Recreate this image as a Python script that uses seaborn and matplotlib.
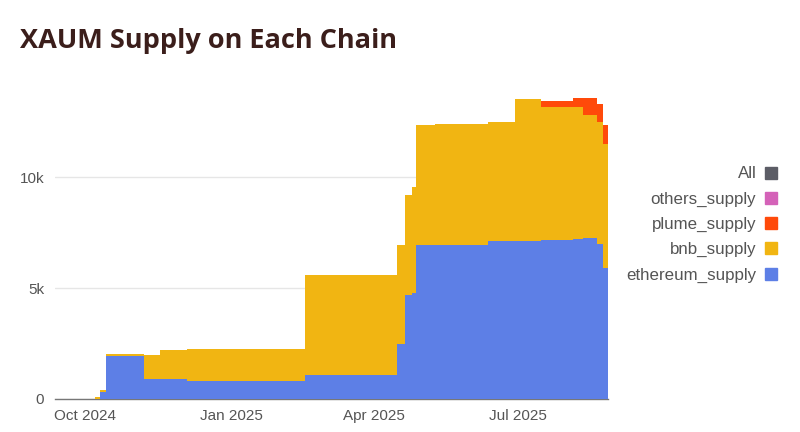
import pandas as pd
import seaborn as sns
import matplotlib.pyplot as plt
import matplotlib.dates as mdates
from matplotlib.lines import Line2D
from matplotlib.ticker import FuncFormatter

# step change dates and supply per chain
dates = ["2024-09-12", "2024-10-07", "2024-10-10", "2024-10-14", "2024-11-07",
         "2024-11-17", "2024-12-04", "2025-02-17", "2025-04-16", "2025-04-21",
         "2025-04-25", "2025-04-28", "2025-05-10", "2025-06-12", "2025-06-29",
         "2025-07-16", "2025-08-05", "2025-08-11", "2025-08-20", "2025-08-24"]
end_date = "2025-08-27"
ethereum_supply = [0, 0, 300, 1950, 900, 900, 800, 1100, 2500, 4700,
                   4800, 6950, 6950, 7100, 7100, 7150, 7200, 7250, 7000, 5900]
bnb_supply = [0, 100, 100, 100, 1100, 1300, 1450, 4500, 4450, 4500,
              4750, 5400, 5450, 5400, 6400, 6000, 5950, 5550, 5500, 5600]
plume_supply = [0, 0, 0, 0, 0, 0, 0, 0, 0, 0,
                0, 0, 0, 0, 0, 300, 400, 750, 800, 850]
others_supply = [0, 0, 0, 0, 0, 0, 0, 0, 0, 0,
                 0, 0, 0, 0, 0, 0, 0, 0, 0, 0]

series_names = ["ethereum_supply", "bnb_supply", "plume_supply", "others_supply"]
colors = {"All": "#5c5d66", "others_supply": "#d462b8", "plume_supply": "#ff4a0a",
          "bnb_supply": "#f1b512", "ethereum_supply": "#5d7fe6"}

df = pd.DataFrame({"date": pd.to_datetime(dates),
                   "ethereum_supply": ethereum_supply,
                   "bnb_supply": bnb_supply,
                   "plume_supply": plume_supply,
                   "others_supply": others_supply})
# repeat last row at the end date so the final step is drawn
last = df.iloc[[-1]].copy()
last["date"] = pd.to_datetime(end_date)
df = pd.concat([df, last], ignore_index=True)

sns.set_theme(style="white")
plt.rcParams["font.family"] = ["Liberation Sans", "DejaVu Sans"]

fig = plt.figure(figsize=(8, 4.32), dpi=100)
ax = fig.add_axes([0.069, 0.0764, 0.691, 0.719])

# stacked step areas
bottom = pd.Series(0.0, index=df.index)
for name in series_names:
    top = bottom + df[name]
    ax.fill_between(df["date"], bottom, top, step="post", color=colors[name],
                    linewidth=0, zorder=2)
    bottom = top

ax.set_xlim(df["date"].iloc[0], df["date"].iloc[-1])
ax.set_ylim(0, 14000)
ax.set_yticks([0, 5000, 10000])
ax.yaxis.set_major_formatter(FuncFormatter(lambda v, p: "0" if v == 0 else f"{int(v/1000)}k"))
ax.xaxis.set_major_locator(mdates.MonthLocator(bymonth=[1, 4, 7, 10]))
ax.xaxis.set_major_formatter(mdates.DateFormatter("%b %Y"))
ax.tick_params(axis="both", length=0, labelsize=11, labelcolor="#555555")
ax.tick_params(axis="y", pad=8)
ax.tick_params(axis="x", pad=7)

ax.grid(axis="y", color="#e6e6e6", linewidth=1, zorder=0)
sns.despine(ax=ax, left=True)
ax.spines["bottom"].set_color("#777777")
ax.spines["bottom"].set_linewidth(1)
ax.spines["bottom"].set_zorder(1)
ax.set_xlabel("")
ax.set_ylabel("")

# legend on the right, labels before markers
labels = ["All", "others_supply", "plume_supply", "bnb_supply", "ethereum_supply"]
handles = [Line2D([], [], marker="s", linestyle="", markersize=9,
                  markerfacecolor=colors[l], markeredgecolor=colors[l]) for l in labels]
leg = fig.legend(handles, labels, loc="upper right", bbox_to_anchor=(0.993, 0.65),
                 markerfirst=False, frameon=False, fontsize=12.2, labelspacing=0.6,
                 handletextpad=0.35, handlelength=1.0, labelcolor="#555555")

fig.text(0.025, 0.889, "XAUM Supply on Each Chain", fontsize=19.5, fontweight="bold",
         color="#3b1e1b", va="baseline", ha="left", family=["Open Sans", "DejaVu Sans"])

fig.savefig("out.png", dpi=100)
